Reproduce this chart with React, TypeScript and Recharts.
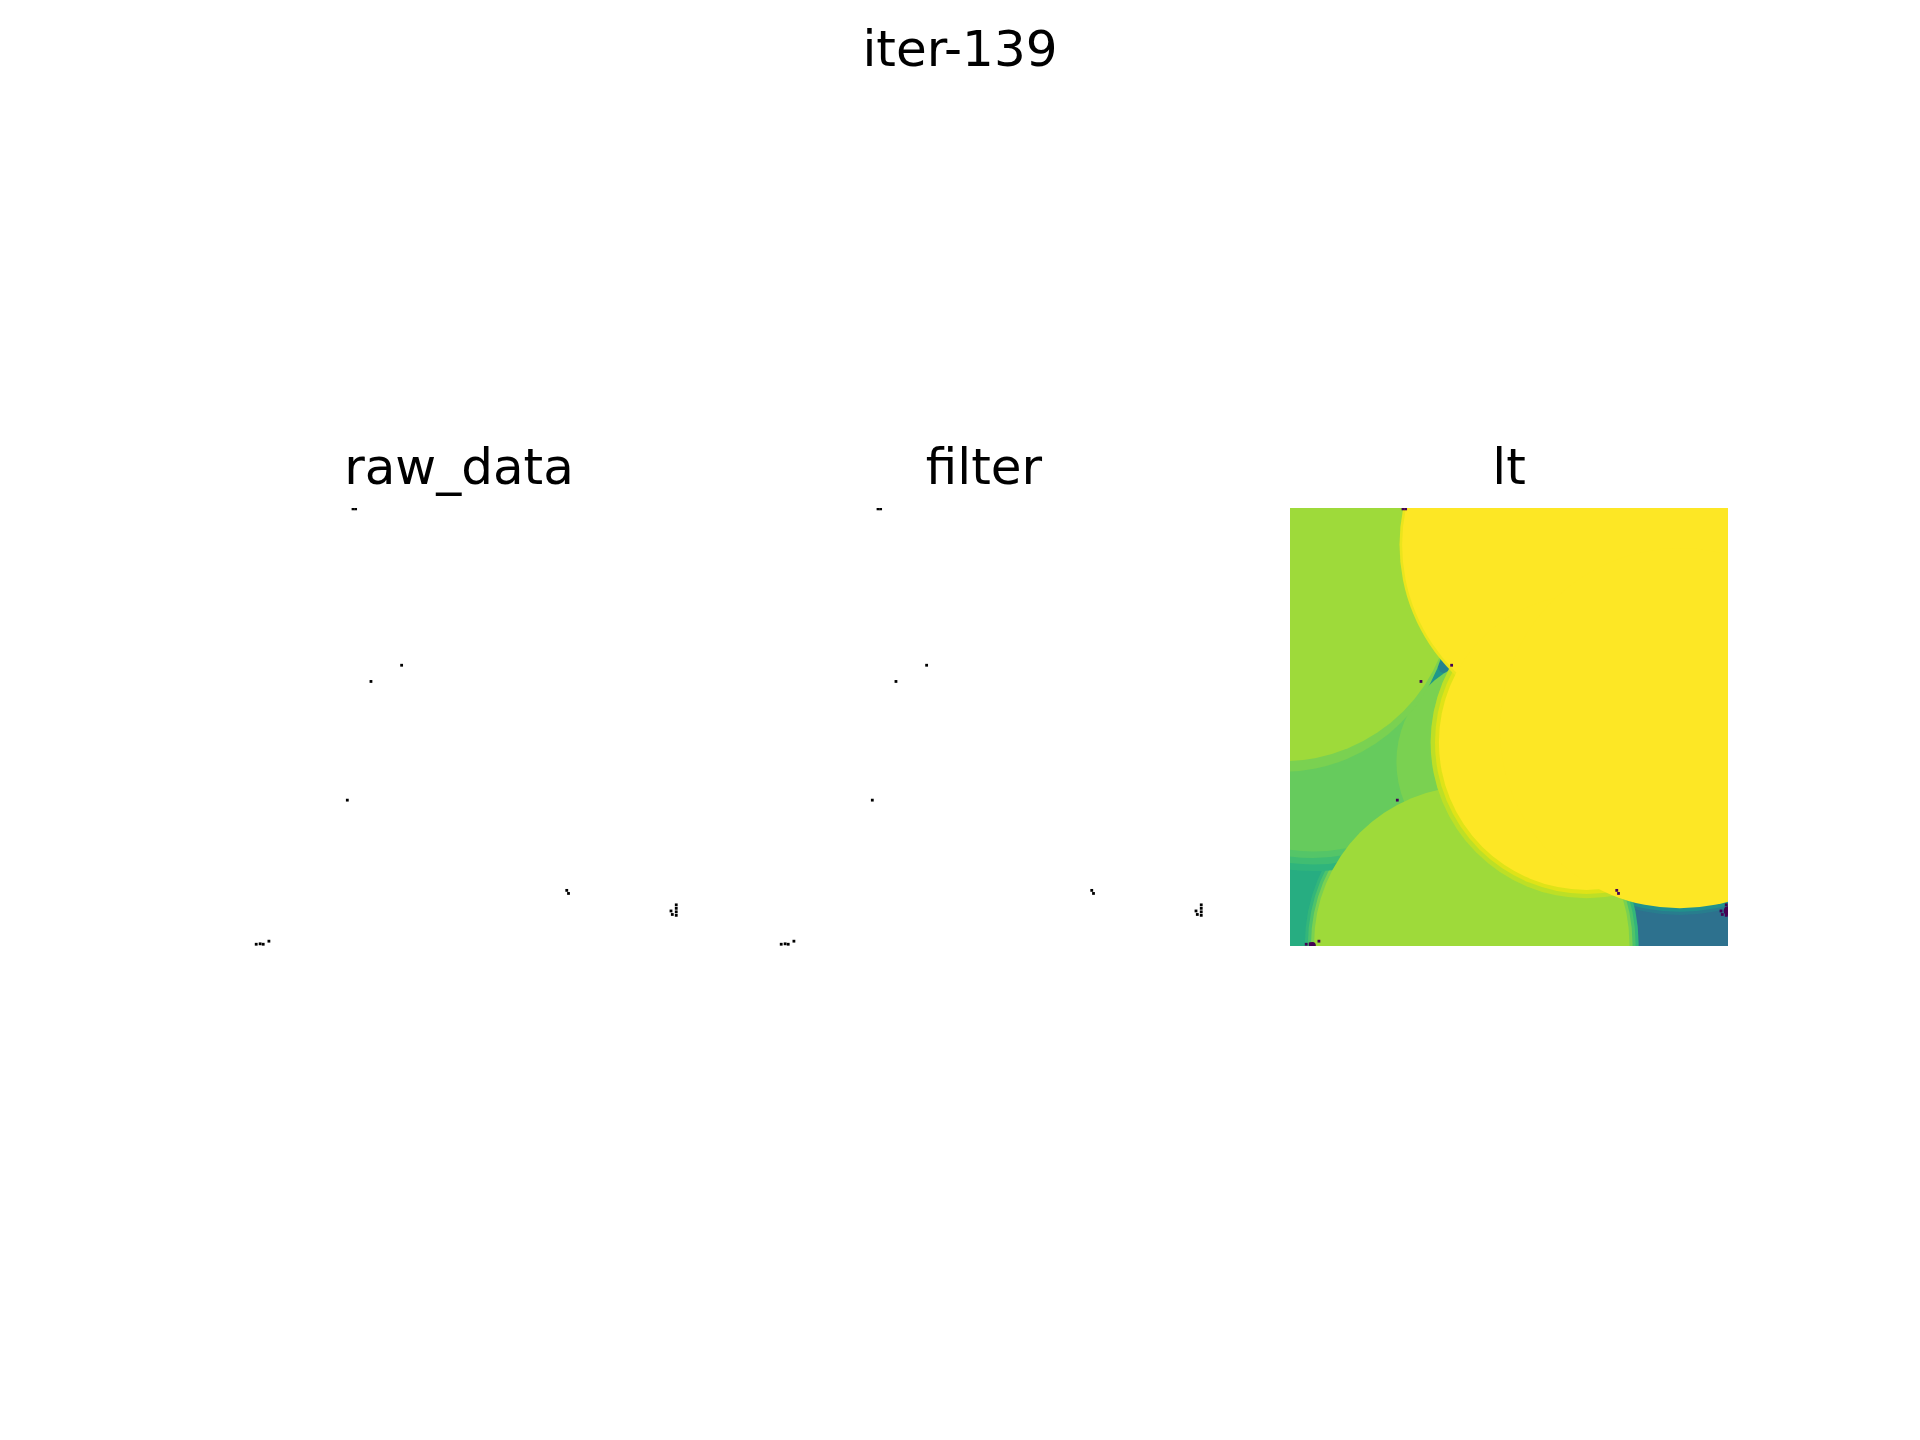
import { ScatterChart, Scatter, XAxis, YAxis } from "recharts";

const SIZE = 438;
const UNIT = SIZE / 100;

const SUPTITLE = "iter-139";
const PANEL_TITLES = ["raw_data", "filter", "lt"];
const PANEL_LEFT = [240, 765, 1290];
const PANEL_TOP = 508;

// local thickness map as stacked discs, bottom first (image units 0..100, value 0..1)
const DISC_X = [50, 96.6, 89.0, 89.0, 41.5, 41.5, 41.5, 5.3, 5.3, 5.3, 5.3, 33.1, 35.3, 48.6, -1.6, -1.6, 41.5, 67.7, 67.7, 66.2, 66.2, 67.7, 89.0, 100.1, 5.1];
const DISC_Y = [50, 107.4, 50.3, 50.3, 99.5, 99.5, 99.5, 39.6, 39.6, 39.6, 39.6, 37.7, 36.2, 58.0, 22.1, 19.0, 99.5, 53.5, 53.5, 8.4, 8.4, 53.5, 50.3, 92.0, 99.9];
const DISC_R = [75, 28.9, 42.6, 41.9, 38.1, 37.4, 36.7, 43.3, 41.8, 40.3, 38.8, 4.2, 1.5, 24.3, 38.1, 38.8, 36.0, 35.6, 34.6, 41.2, 40.6, 33.7, 41.1, 1.1, 0.8];
const DISC_V = [0.62, 0.37, 0.42, 0.5, 0.66, 0.72, 0.8, 0.65, 0.69, 0.73, 0.765, 0.53, 0.44, 0.8, 0.8, 0.855, 0.855, 0.9, 0.95, 0.97, 1, 1, 1, 0, 0];

// isolated pixels in the raw / filtered images
const SPECK_X = [25.8, 26.4, 36.9, 29.9, 24.5, 74.6, 75.0, 99.6, 99.6, 99.6, 99.6, 98.4, 98.7, 3.7, 4.6, 5.3, 6.6];
const SPECK_Y = [0.2, 0.2, 35.9, 39.6, 66.7, 87.3, 88.0, 90.6, 91.4, 92.2, 93.0, 92.0, 92.8, 99.6, 99.5, 99.6, 98.9];

const VIRIDIS = [
  "#440154", "#471365", "#482475", "#463480", "#414487", "#3b528b", "#355f8d",
  "#2f6c8e", "#2a788e", "#25848e", "#21918c", "#1e9c89", "#22a884", "#2fb47c",
  "#44bf70", "#5ec962", "#7ad151", "#9bd93c", "#bddf26", "#dfe318", "#fde725",
];

function viridis(t: number) {
  const p = Math.max(0, Math.min(1, t)) * 20;
  const i = Math.min(19, Math.floor(p));
  const f = p - i;
  const a = VIRIDIS[i];
  const b = VIRIDIS[i + 1];
  const ch = (s: string, k: number) => parseInt(s.slice(1 + k * 2, 3 + k * 2), 16);
  const c = [0, 1, 2].map((k) => Math.round(ch(a, k) + (ch(b, k) - ch(a, k)) * f));
  return `rgb(${c[0]},${c[1]},${c[2]})`;
}

const discs = DISC_X.map((x, i) => ({ x, y: DISC_Y[i], r: DISC_R[i], v: DISC_V[i] }));
const specks = SPECK_X.map((x, i) => ({ x, y: SPECK_Y[i] }));

const Disc = (props: any) => (
  <circle cx={props.cx} cy={props.cy} r={props.payload.r * UNIT} fill={viridis(props.payload.v)} />
);

const speck = (color: string) => (props: any) => (
  <rect x={props.cx - 1.4} y={props.cy - 1.4} width={2.8} height={2.8} fill={color} />
);

function Panel({ index }: { index: number }) {
  const isLt = index === 2;
  return (
    <div
      style={{
        position: "absolute",
        left: PANEL_LEFT[index],
        top: PANEL_TOP,
        width: SIZE,
        height: SIZE,
        overflow: "hidden",
      }}
    >
      <ScatterChart width={SIZE} height={SIZE} margin={{ top: 0, right: 0, bottom: 0, left: 0 }}>
        <XAxis type="number" dataKey="x" domain={[0, 100]} hide allowDataOverflow />
        <YAxis type="number" dataKey="y" domain={[0, 100]} reversed hide allowDataOverflow />
        {isLt && <Scatter data={discs} shape={Disc} isAnimationActive={false} />}
        <Scatter data={specks} shape={speck(isLt ? "#440154" : "#000000")} isAnimationActive={false} />
      </ScatterChart>
    </div>
  );
}

const titleStyle = {
  position: "absolute" as const,
  fontSize: 50,
  lineHeight: "50px",
  textAlign: "center" as const,
  color: "#000",
  whiteSpace: "nowrap" as const,
};

export default function App() {
  return (
    <div
      style={{
        position: "absolute",
        left: 0,
        top: 0,
        width: 1920,
        height: 1440,
        background: "#fff",
        fontFamily: "'DejaVu Sans', sans-serif",
      }}
    >
      <div style={{ ...titleStyle, left: 0, width: 1920, top: 24 }}>{SUPTITLE}</div>
      {PANEL_TITLES.map((t, i) => (
        <div key={t} style={{ ...titleStyle, left: PANEL_LEFT[i], width: SIZE, top: 442 }}>
          {t}
        </div>
      ))}
      {PANEL_TITLES.map((t, i) => (
        <Panel key={t} index={i} />
      ))}
    </div>
  );
}
